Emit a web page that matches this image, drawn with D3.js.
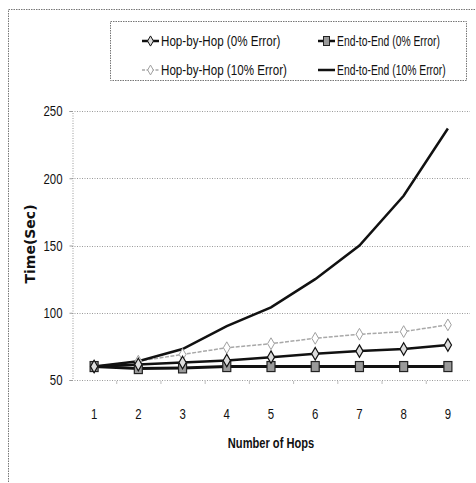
<!DOCTYPE html>
<html lang="en">
  <head>
    <meta charset="utf-8">
    <title>Time vs number of hops</title>
    <script type="text/javascript" src="https://d3js.org/d3.v7.min.js"></script>
    <style>
      body {
        margin: 0;
        background: #ffffff;
      }
      .narrow {
        font-family: 'Liberation Sans', Arial, sans-serif;
      }
      .grid-line {
        stroke: #9a9a9a;
        stroke-width: 1;
        stroke-dasharray: 1, 1.5;
      }
      .frame {
        fill: none;
        stroke: #777777;
        stroke-width: 1;
        stroke-dasharray: 1.5, 1;
      }
    </style>
  </head>
  <body>
    <div id="chart"></div>
    <script type="text/javascript">

      var w = 476;
      var h = 483;

      // data
      var hops = [1, 2, 3, 4, 5, 6, 7, 8, 9];
      var hopByHop0 = [60, 61.5, 63, 64.5, 67, 69.5, 71.5, 73, 76];
      var endToEnd0 = [60, 58.5, 59, 60, 60, 60, 60, 60, 60];
      var hopByHop10 = [60, 64, 69, 74, 77, 81, 84, 86, 91];
      var endToEnd10 = [60, 64, 73, 90, 104, 125, 150, 187, 237];
      var yTicks = [50, 100, 150, 200, 250];
      var seriesNames = ['Hop-by-Hop (0% Error)', 'End-to-End (0% Error)', 'Hop-by-Hop (10% Error)', 'End-to-End (10% Error)'];

      // no condensed font installed, so squeeze text horizontally
      function squeeze(sel, k) {
        sel.each(function() {
          var len = this.getComputedTextLength();
          d3.select(this)
            .attr('textLength', len * k)
            .attr('lengthAdjust', 'spacingAndGlyphs');
        });
      }

      var svg = d3.select('#chart')
        .append('svg')
          .attr('width', w)
          .attr('height', h)
          .style('display', 'block');

      // outer dotted frame (runs off the right and bottom of the picture)
      svg.append('rect')
        .attr('class', 'frame')
        .attr('x', 8.5)
        .attr('y', 9.5)
        .attr('width', 480)
        .attr('height', 490);

      var x = d3.scaleBand()
        .domain(hops)
        .range([72, 470]);

      var y = d3.scaleLinear()
        .domain([50, 250])
        .range([380, 111]);

      function cx(d, i) { return x(hops[i]) + x.bandwidth() / 2; }

      // gridlines
      svg.append('g').selectAll('line')
        .data(yTicks)
        .enter()
        .append('line')
          .attr('class', 'grid-line')
          .attr('x1', 72)
          .attr('x2', 470)
          .attr('y1', function(d) { return Math.round(y(d)) + 0.5; })
          .attr('y2', function(d) { return Math.round(y(d)) + 0.5; });

      // y axis
      var yAxis = svg.append('g')
        .attr('class', 'narrow')
        .attr('transform', 'translate(72.5, 0)')
        .call(d3.axisLeft(y).tickValues(yTicks).tickSize(3).tickPadding(7));
      yAxis.select('.domain').attr('stroke', '#9a9a9a').attr('stroke-dasharray', '1,1.5');
      yAxis.selectAll('.tick line').attr('stroke', '#9a9a9a');
      yAxis.selectAll('text').attr('font-size', 15).attr('fill', '#111').call(squeeze, 0.76);

      // x axis
      var xAxis = svg.append('g')
        .attr('class', 'narrow')
        .attr('transform', 'translate(0, 380.5)')
        .call(d3.axisBottom(x).tickSize(0).tickPadding(28));
      xAxis.select('.domain').remove();
      xAxis.selectAll('text').attr('font-size', 15).attr('fill', '#111').call(squeeze, 0.76);

      // small ticks between categories
      svg.append('g').selectAll('line')
        .data(hops.slice(1))
        .enter()
        .append('line')
          .attr('x1', function(d) { return x(d) + 0.5; })
          .attr('x2', function(d) { return x(d) + 0.5; })
          .attr('y1', 381)
          .attr('y2', 384)
          .attr('stroke', '#bbbbbb');

      // axis titles
      svg.append('text')
        .attr('class', 'narrow')
        .attr('x', 271)
        .attr('y', 448)
        .attr('text-anchor', 'middle')
        .attr('font-size', 15)
        .attr('font-weight', 'bold')
        .attr('fill', '#111')
        .text('Number of Hops')
        .call(squeeze, 0.74);

      svg.append('text')
        .attr('transform', 'translate(35, 244) rotate(-90)')
        .attr('text-anchor', 'middle')
        .attr('font-family', 'DejaVu Sans')
        .attr('font-size', 14)
        .attr('font-weight', 'bold')
        .attr('fill', '#111')
        .text('Time(Sec)');

      var line = d3.line()
        .x(cx)
        .y(function(d) { return y(d); });

      // Hop-by-Hop 10% (light grey)
      svg.append('path')
        .datum(hopByHop10)
        .attr('d', line)
        .attr('fill', 'none')
        .attr('stroke', '#a8a8a8')
        .attr('stroke-width', 1.5)
        .attr('stroke-dasharray', '4,1.5');

      // End-to-End 0%
      svg.append('path')
        .datum(endToEnd0)
        .attr('d', line)
        .attr('fill', 'none')
        .attr('stroke', '#111')
        .attr('stroke-width', 3);

      // Hop-by-Hop 0%
      svg.append('path')
        .datum(hopByHop0)
        .attr('d', line)
        .attr('fill', 'none')
        .attr('stroke', '#111')
        .attr('stroke-width', 2.5);

      // End-to-End 10%
      svg.append('path')
        .datum(endToEnd10)
        .attr('d', line)
        .attr('fill', 'none')
        .attr('stroke', '#111')
        .attr('stroke-width', 2.5);

      // markers
      var diamond = d3.symbol().type(d3.symbolDiamond).size(45);
      var star = d3.symbol().type(d3.symbolDiamond).size(40);

      svg.append('g').selectAll('path')
        .data(hopByHop10)
        .enter()
        .append('path')
          .attr('d', star)
          .attr('transform', function(d, i) { return 'translate(' + cx(d, i) + ',' + y(d) + ')'; })
          .attr('fill', '#ffffff')
          .attr('stroke', '#a0a0a0')
          .attr('stroke-width', 1);

      svg.append('g').selectAll('rect')
        .data(endToEnd0)
        .enter()
        .append('rect')
          .attr('x', function(d, i) { return cx(d, i) - 4; })
          .attr('y', function(d) { return y(d) - 5; })
          .attr('width', 8)
          .attr('height', 10)
          .attr('fill', '#9a9a9a')
          .attr('stroke', '#222')
          .attr('stroke-width', 1.2);

      svg.append('g').selectAll('path')
        .data(hopByHop0)
        .enter()
        .append('path')
          .attr('d', diamond)
          .attr('transform', function(d, i) { return 'translate(' + cx(d, i) + ',' + y(d) + ')'; })
          .attr('fill', '#dddddd')
          .attr('stroke', '#111')
          .attr('stroke-width', 1.2);

      // legend
      var legend = svg.append('g');
      legend.append('rect')
        .attr('class', 'frame')
        .attr('x', 110.5)
        .attr('y', 21.5)
        .attr('width', 356)
        .attr('height', 59);

      var legendX = [142, 318, 142, 318];
      var legendY = [41, 41, 70, 70];

      var items = legend.selectAll('.legend-item')
        .data(seriesNames)
        .enter()
        .append('g')
          .attr('class', 'legend-item')
          .attr('transform', function(d, i) { return 'translate(' + legendX[i] + ',' + legendY[i] + ')'; });

      items.append('line')
        .attr('x1', 0)
        .attr('x2', 17)
        .attr('stroke', function(d, i) { return i == 2 ? '#a8a8a8' : '#111'; })
        .attr('stroke-width', function(d, i) { return i == 2 ? 1.5 : 2.5; })
        .attr('stroke-dasharray', function(d, i) { return i == 2 ? '3,1.5' : null; });

      items.filter(function(d, i) { return i == 0; })
        .append('path')
          .attr('d', d3.symbol().type(d3.symbolDiamond).size(30))
          .attr('transform', 'translate(8.5,0)')
          .attr('fill', '#dddddd')
          .attr('stroke', '#111');

      items.filter(function(d, i) { return i == 1; })
        .append('rect')
          .attr('x', 5.5)
          .attr('y', -4.5)
          .attr('width', 6)
          .attr('height', 9)
          .attr('fill', '#9a9a9a')
          .attr('stroke', '#222');

      items.filter(function(d, i) { return i == 2; })
        .append('path')
          .attr('d', d3.symbol().type(d3.symbolDiamond).size(28))
          .attr('transform', 'translate(8.5,0)')
          .attr('fill', '#ffffff')
          .attr('stroke', '#a0a0a0');

      // legend labels squeezed with a transform
      items.append('text')
        .attr('class', 'narrow')
        .attr('transform', function(d, i) { return 'translate(19,0) scale(' + (i % 2 == 0 ? 0.83 : 0.74) + ',1)'; })
        .attr('dy', '0.35em')
        .attr('font-size', 14)
        .attr('fill', '#111')
        .text(function(d) { return d; });

    </script>
  </body>
</html>
